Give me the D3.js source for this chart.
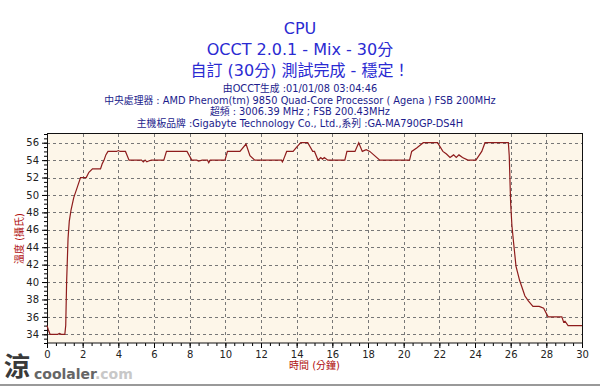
<!DOCTYPE html>
<html lang="zh-Hant">
<head>
<meta charset="UTF-8">
<title>CPU OCCT</title>
<script src="https://d3js.org/d3.v7.min.js"></script>
<style>
  body { margin: 0; background: #fff; }
  text { font-family: "DejaVu Sans", "Noto Sans CJK TC", sans-serif; }
</style>
</head>
<body>
<div id="chart"></div>
<script>
// titles
var titleLines = ["CPU", "OCCT 2.0.1 - Mix - 30分", "自訂 (30分) 測試完成 - 穩定！"];
var infoLines = [
  "由OCCT生成 :01/01/08 03:04:46",
  "中央處理器 : AMD Phenom(tm) 9850 Quad-Core Processor ( Agena ) FSB 200MHz",
  "超頻 : 3006.39 MHz ; FSB 200.43MHz",
  "主機板品牌 :Gigabyte Technology Co., Ltd.,系列 :GA-MA790GP-DS4H"
];
var xLabel = "時間 (分鐘)";
var yLabel = "溫度 (攝氏)";

// ticks
var xTicks = [0, 2, 4, 6, 8, 10, 12, 14, 16, 18, 20, 22, 24, 26, 28, 30];
var yTicks = [34, 36, 38, 40, 42, 44, 46, 48, 50, 52, 54, 56];

// temperature trace (minutes, deg C)
var minutes = [0, 0.08, 0.17, 0.6, 0.7, 0.8, 1.0, 1.05, 1.1, 1.18, 1.25, 1.35, 1.5, 1.7, 1.88,
  2.2, 2.35, 2.55, 3.0, 3.1, 3.2, 3.3, 3.42, 3.9, 4.0, 4.1, 4.4, 4.6, 5.3, 5.4, 5.5, 5.6, 5.7, 5.85,
  6.55, 6.7, 7.85, 8.12, 8.4, 8.5, 8.7, 9.0, 9.07, 9.15, 9.98, 10.12, 10.82, 11.16, 11.38, 11.65,
  13.15, 13.2, 13.25, 13.44, 13.8, 14.0, 14.23, 14.62, 14.9, 15.0, 15.2, 15.35, 15.45, 15.55, 15.75,
  16.7, 16.82, 17.27, 17.48, 17.68, 17.9, 18.1, 18.66, 20.33, 20.45, 20.73, 20.92, 21.1, 21.9,
  22.2, 22.4, 22.6, 22.8, 22.95, 23.1, 23.3, 23.6, 24.05, 24.38, 24.56, 25.87, 25.92, 26.0, 26.07,
  26.15, 26.3, 26.5, 26.8, 27.0, 27.25, 27.6, 27.85, 28.1, 28.87, 28.97, 29.05, 29.22, 30];
var temps = [35, 34.5, 34, 34, 34.1, 34, 34, 35, 40, 45, 47, 48.3, 49.7, 50.9, 52,
  52, 52.6, 53, 53, 53.6, 54, 54.6, 55, 55, 55.1, 55, 55, 54, 54, 53.8, 54, 53.8, 53.9, 54,
  54, 55, 55, 54, 54, 53.9, 54, 54, 53.7, 54, 54, 55, 55, 55.85, 54.5, 54,
  54, 53.8, 54, 55, 55, 55.5, 56, 56, 55, 55, 54, 54.3, 54.1, 54.3, 54,
  54, 55, 55, 56, 55, 55.2, 55, 54, 54, 55, 55.4, 55.7, 56, 56,
  55, 54.7, 54.3, 54.6, 54.3, 54.6, 54.3, 54, 54, 55, 56, 56, 54.5, 49, 46.5,
  44.8, 41.8, 40.2, 38.4, 37.8, 37.2, 37.2, 37, 36, 36, 35.4, 35.5, 35, 35];

var W = 600, H = 386;
var margin = {top: 134, right: 18, bottom: 43, left: 47};
var width = W - margin.left - margin.right,
    height = H - margin.top - margin.bottom;

var svg = d3.select("#chart").append("svg")
  .attr("width", W).attr("height", H);

// titles
svg.selectAll(".title").data(titleLines).enter().append("text")
  .attr("x", 300)
  .attr("y", function(d, i) { return 34 + i * 21; })
  .attr("text-anchor", "middle")
  .style("font-size", "16px")
  .style("fill", "#2a2ad2")
  .text(function(d) { return d; });

svg.selectAll(".info").data(infoLines).enter().append("text")
  .attr("x", 300)
  .attr("y", function(d, i) { return 92 + i * 11.7; })
  .attr("text-anchor", "middle")
  .style("font-size", "9.8px")
  .style("fill", "#1c1c8c")
  .text(function(d) { return d; });

var g = svg.append("g")
  .attr("transform", "translate(" + margin.left + "," + margin.top + ")");

var x = d3.scaleLinear().domain([0, 30]).range([0, width]);
var y = d3.scaleLinear().domain([33, 57]).range([height, 0]);

g.append("rect")
  .attr("width", width).attr("height", height)
  .attr("fill", "#fdf6e9");

// dashed grid
g.append("g").selectAll("line").data(xTicks.slice(1, -1)).enter().append("line")
  .attr("x1", function(d) { return Math.round(x(d)) + 0.5; })
  .attr("x2", function(d) { return Math.round(x(d)) + 0.5; })
  .attr("y1", 0).attr("y2", height)
  .attr("stroke", "#777").attr("stroke-dasharray", "3,3");
g.append("g").selectAll("line").data(yTicks).enter().append("line")
  .attr("y1", function(d) { return Math.round(y(d)) + 0.5; })
  .attr("y2", function(d) { return Math.round(y(d)) + 0.5; })
  .attr("x1", 0).attr("x2", width)
  .attr("stroke", "#777").attr("stroke-dasharray", "3,3");

// minor ticks
g.append("g")
  .attr("transform", "translate(0," + height + ")")
  .call(d3.axisBottom(x).tickValues(d3.range(0, 30.01, 0.5)).tickSize(3).tickFormat(""))
  .call(function(s) { s.select(".domain").remove(); });
g.append("g")
  .call(d3.axisLeft(y).tickValues(d3.range(33, 57.01, 0.5)).tickSize(3).tickFormat(""))
  .call(function(s) { s.select(".domain").remove(); });

// major axes
var xAxis = g.append("g")
  .attr("transform", "translate(0," + height + ")")
  .call(d3.axisBottom(x).tickValues(xTicks).tickSize(5).tickSizeOuter(0));
var yAxis = g.append("g")
  .call(d3.axisLeft(y).tickValues(yTicks).tickSize(5).tickSizeOuter(0));
[xAxis, yAxis].forEach(function(a) {
  a.selectAll("text").style("font-size", "10px").style("fill", "#222");
  a.select(".domain").remove();
});

g.append("rect")
  .attr("x", 0.5).attr("y", -0.5)
  .attr("width", width).attr("height", height + 0.5)
  .attr("fill", "none").attr("stroke", "#111");

// trace
var line = d3.line()
  .x(function(d, i) { return x(minutes[i]); })
  .y(function(d) { return y(d); });
g.append("path")
  .datum(temps)
  .attr("fill", "none")
  .attr("stroke", "#8e1c1c")
  .attr("stroke-width", 1.2)
  .attr("d", line);

// axis titles
svg.append("text")
  .attr("x", margin.left + x(15)).attr("y", 369)
  .attr("text-anchor", "middle")
  .style("font-size", "10px").style("fill", "#b01010")
  .text(xLabel);
svg.append("text")
  .attr("transform", "translate(23," + (margin.top + y(45)) + ") rotate(-90)")
  .attr("text-anchor", "middle")
  .style("font-size", "10px").style("fill", "#b01010")
  .text(yLabel);

// watermark
svg.append("text")
  .attr("x", 4).attr("y", 376)
  .style("font-family", "Noto Sans CJK TC")
  .style("font-size", "26px").style("font-weight", "bold")
  .style("fill", "#3a3a3a")
  .text("涼");
var wm = svg.append("text").attr("x", 34).attr("y", 379)
  .style("font-size", "14px").style("font-weight", "bold");
wm.append("tspan").style("fill", "#666").text("coolaler");
wm.append("tspan").style("fill", "#c8c8c8").text(".com");

// bottom frame line
svg.append("line")
  .attr("x1", 0).attr("x2", W).attr("y1", 385).attr("y2", 385)
  .attr("stroke", "#999").attr("stroke-width", 2);
</script>
</body>
</html>
